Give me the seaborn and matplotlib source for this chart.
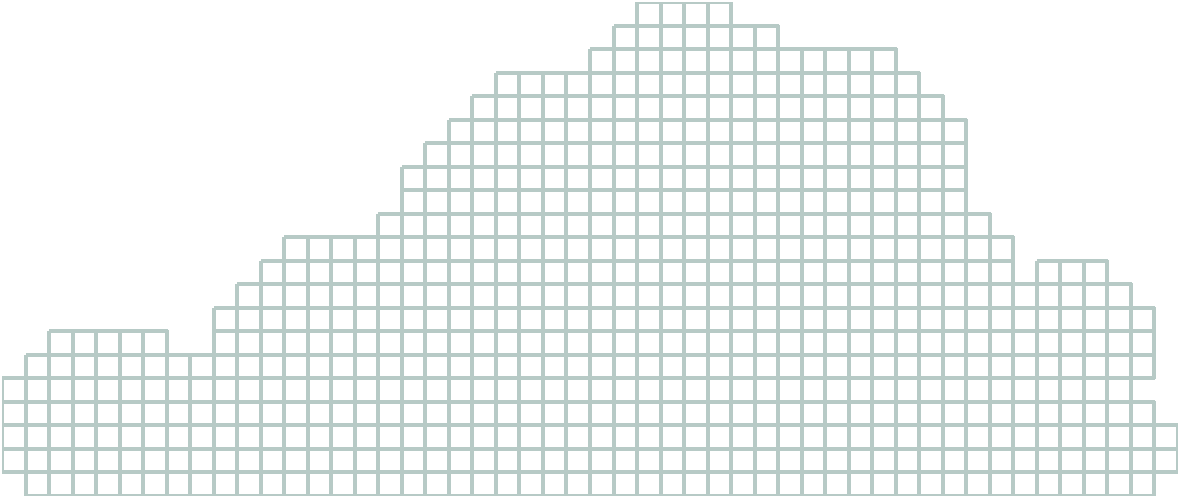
import numpy as np
import pandas as pd
import seaborn as sns
from matplotlib import pyplot as plt
from matplotlib.colors import ListedColormap, to_rgba

# stacked cell count per column, left to right
heights = [5, 6, 7, 7, 7, 7, 7, 6, 6, 8,
           9, 10, 11, 11, 11, 11, 12, 14, 15, 16,
           17, 18, 18, 18, 18, 19, 20, 21, 21, 21,
           21, 20, 20, 19, 19, 19, 19, 19, 18, 17,
           16, 12, 11, 9, 10, 10, 10, 9, 8, 3]
# empty cells as (column, row counted from the bottom)
missing = [(0, 0), (48, 4), (49, 0)]
n_rows = 21
line_color = '#b7cac6'

grid = np.full((n_rows, len(heights)), np.nan)
for col, h in enumerate(heights):
    for r in range(h):
        if (col, r) not in missing:
            grid[n_rows - 1 - r, col] = 1
df = pd.DataFrame(grid)

fig = plt.figure(figsize=(11.8, 4.97), dpi=100)
ax = fig.add_axes([2 / 1180, 1.5 / 497, 1176 / 1180, 493.5 / 497])
sns.heatmap(df, cmap=ListedColormap(['white']), cbar=False,
            linewidths=1.5, linecolor=line_color,
            xticklabels=False, yticklabels=False, ax=ax)
# hide the edges of empty cells
mesh = ax.collections[0]
edges = np.array([to_rgba(line_color) if v == 1 else (1, 1, 1, 0)
                  for v in grid.ravel()])
mesh.set_edgecolor(edges)
ax.axis('off')
fig.savefig('out.png', dpi=100, facecolor='white')
